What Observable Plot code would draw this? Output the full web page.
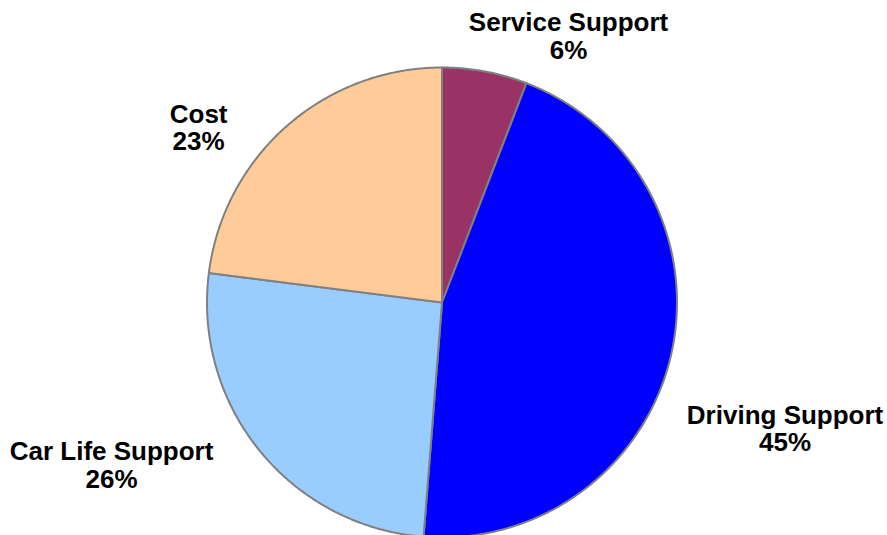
<!DOCTYPE html>
<html>
<head>
<meta charset="utf-8">
<script src="https://cdn.jsdelivr.net/npm/d3@7"></script>
<script src="https://cdn.jsdelivr.net/npm/@observablehq/plot@0.6"></script>
<style>
  html, body { margin: 0; padding: 0; background: #ffffff; }
  #chart { width: 887px; height: 535px; overflow: hidden; }
</style>
</head>
<body>
<div id="chart"></div>
<script>
// ---- data ----
const categories = ["Service Support", "Driving Support", "Car Life Support", "Cost"];
const shares = [5.85, 45.4, 25.75, 23.0];          // percent of total
const colors = ["#993366", "#0000FF", "#99CCFF", "#FFCC99"];

// label placement offsets (pixels) relative to the slice mid-angle anchor
const labelNudge = [[72, 27], [52, 60], [-99, -26], [-46, 49]];

// ---- layout ----
const W = 887, H = 535;
const cx = 441.5, cy = 302, R = 235;   // pie centre / radius in pixels
const labelRadius = 1.27;

const pie = d3.pie().sort(null).value(d => d.value)(
  categories.map((name, i) => ({name, value: shares[i]}))
);

// slice outlines, built from pie angles (angle 0 = 12 o'clock, clockwise)
const slicePts = [];
pie.forEach(s => {
  const name = s.data.name;
  slicePts.push({name, x: 0, y: 0});
  const steps = Math.max(2, Math.ceil((s.endAngle - s.startAngle) / (Math.PI / 360)));
  for (let k = 0; k <= steps; k++) {
    const a = s.startAngle + (s.endAngle - s.startAngle) * k / steps;
    slicePts.push({name, x: Math.sin(a), y: Math.cos(a)});
  }
});

const labels = pie.map((s, i) => {
  const a = (s.startAngle + s.endAngle) / 2;
  return {
    name: s.data.name,
    x: Math.sin(a) * labelRadius + labelNudge[i][0] / R,
    y: Math.cos(a) * labelRadius - labelNudge[i][1] / R,
    text: s.data.name + "\n" + Math.round(s.data.value) + "%"
  };
});

const chart = Plot.plot({
  width: W,
  height: H,
  margin: 0,
  style: {background: "#ffffff", overflow: "visible"},
  x: {domain: [-cx / R, (W - cx) / R], range: [0, W], axis: null},
  y: {domain: [(cy - H) / R, cy / R], range: [H, 0], axis: null},
  color: {domain: categories, range: colors},
  marks: [
    Plot.line(slicePts, {
      x: "x", y: "y", z: "name", fill: "name",
      stroke: "#808080", strokeWidth: 2, strokeLinejoin: "round",
      curve: "linear-closed"
    }),
    Plot.text(labels, {
      x: "x", y: "y", text: "text",
      fontSize: 26, fontWeight: "bold",
      fontFamily: "'Liberation Sans', Arial, sans-serif",
      fill: "#000000", lineHeight: 1.06, textAnchor: "middle"
    })
  ]
});

document.getElementById("chart").appendChild(chart);
</script>
</body>
</html>
